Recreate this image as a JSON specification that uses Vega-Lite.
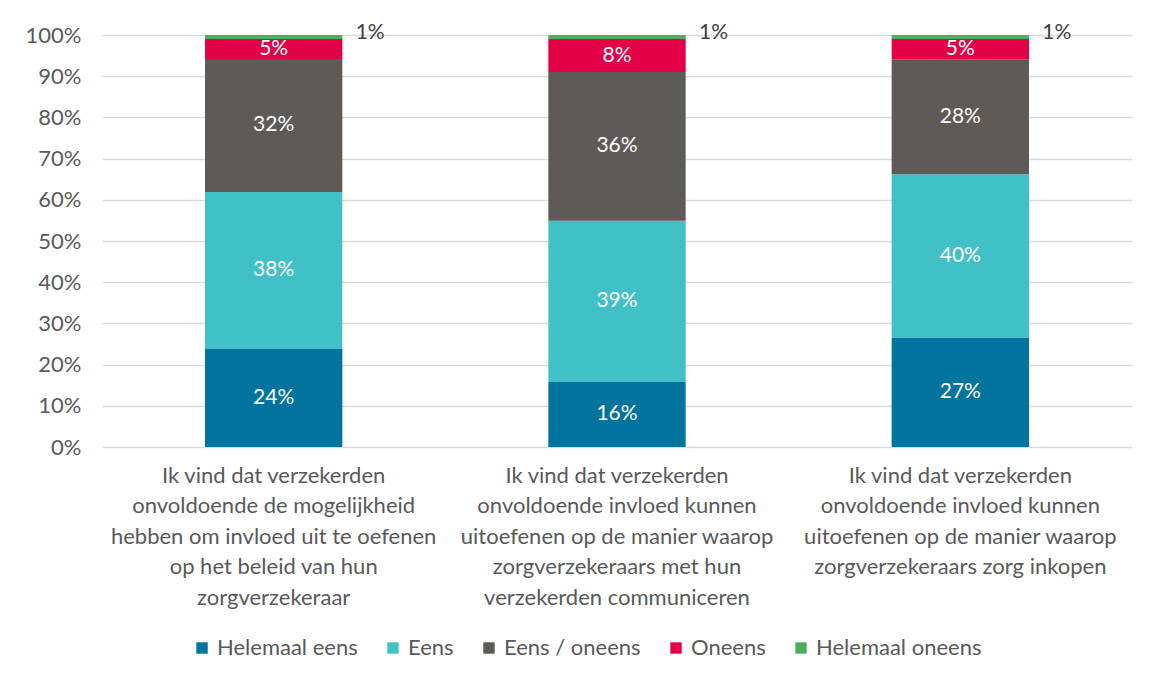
{
  "$schema": "https://vega.github.io/schema/vega-lite/v6.json",
  "width": 1030,
  "height": 412,
  "autosize": {"type": "none"},
  "padding": {"left": 102, "top": 35, "right": 21, "bottom": 235},
  "background": "white",
  "config": {
    "font": "Lato",
    "view": {"stroke": null},
    "axis": {"labelFont": "Lato", "labelFontSize": 22, "labelColor": "#595959"},
    "legend": {"labelFont": "Lato", "labelFontSize": 22, "labelColor": "#595959"}
  },
  "data": {
    "values": [
      {"cat": "Ik vind dat verzekerden|onvoldoende de mogelijkheid|hebben om invloed uit te oefenen|op het beleid van hun|zorgverzekeraar", "resp": "Helemaal eens", "order": 1, "value": 0.238},
      {"cat": "Ik vind dat verzekerden|onvoldoende de mogelijkheid|hebben om invloed uit te oefenen|op het beleid van hun|zorgverzekeraar", "resp": "Eens", "order": 2, "value": 0.381},
      {"cat": "Ik vind dat verzekerden|onvoldoende de mogelijkheid|hebben om invloed uit te oefenen|op het beleid van hun|zorgverzekeraar", "resp": "Eens / oneens", "order": 3, "value": 0.323},
      {"cat": "Ik vind dat verzekerden|onvoldoende de mogelijkheid|hebben om invloed uit te oefenen|op het beleid van hun|zorgverzekeraar", "resp": "Oneens", "order": 4, "value": 0.048},
      {"cat": "Ik vind dat verzekerden|onvoldoende de mogelijkheid|hebben om invloed uit te oefenen|op het beleid van hun|zorgverzekeraar", "resp": "Helemaal oneens", "order": 5, "value": 0.010},
      {"cat": "Ik vind dat verzekerden|onvoldoende invloed kunnen|uitoefenen op de manier waarop|zorgverzekeraars met hun|verzekerden communiceren", "resp": "Helemaal eens", "order": 1, "value": 0.158},
      {"cat": "Ik vind dat verzekerden|onvoldoende invloed kunnen|uitoefenen op de manier waarop|zorgverzekeraars met hun|verzekerden communiceren", "resp": "Eens", "order": 2, "value": 0.391},
      {"cat": "Ik vind dat verzekerden|onvoldoende invloed kunnen|uitoefenen op de manier waarop|zorgverzekeraars met hun|verzekerden communiceren", "resp": "Eens / oneens", "order": 3, "value": 0.361},
      {"cat": "Ik vind dat verzekerden|onvoldoende invloed kunnen|uitoefenen op de manier waarop|zorgverzekeraars met hun|verzekerden communiceren", "resp": "Oneens", "order": 4, "value": 0.080},
      {"cat": "Ik vind dat verzekerden|onvoldoende invloed kunnen|uitoefenen op de manier waarop|zorgverzekeraars met hun|verzekerden communiceren", "resp": "Helemaal oneens", "order": 5, "value": 0.010},
      {"cat": "Ik vind dat verzekerden|onvoldoende invloed kunnen|uitoefenen op de manier waarop|zorgverzekeraars zorg inkopen", "resp": "Helemaal eens", "order": 1, "value": 0.266},
      {"cat": "Ik vind dat verzekerden|onvoldoende invloed kunnen|uitoefenen op de manier waarop|zorgverzekeraars zorg inkopen", "resp": "Eens", "order": 2, "value": 0.396},
      {"cat": "Ik vind dat verzekerden|onvoldoende invloed kunnen|uitoefenen op de manier waarop|zorgverzekeraars zorg inkopen", "resp": "Eens / oneens", "order": 3, "value": 0.279},
      {"cat": "Ik vind dat verzekerden|onvoldoende invloed kunnen|uitoefenen op de manier waarop|zorgverzekeraars zorg inkopen", "resp": "Oneens", "order": 4, "value": 0.049},
      {"cat": "Ik vind dat verzekerden|onvoldoende invloed kunnen|uitoefenen op de manier waarop|zorgverzekeraars zorg inkopen", "resp": "Helemaal oneens", "order": 5, "value": 0.010}
    ]
  },
  "transform": [
    {"stack": "value", "groupby": ["cat"], "sort": [{"field": "order", "order": "ascending"}], "as": ["y0", "y1"]},
    {"calculate": "(datum.y0 + datum.y1) / 2", "as": "mid"}
  ],
  "encoding": {
    "x": {
      "field": "cat", "type": "nominal", "sort": null,
      "scale": {"paddingInner": 0.6, "paddingOuter": 0.3},
      "axis": {
        "title": null, "labelAngle": 0, "ticks": false, "domain": false,
        "labelExpr": "split(datum.label, '|')", "labelLineHeight": 30.5,
        "labelPadding": 18, "labelBaseline": "top", "labelLimit": 0
      }
    }
  },
  "layer": [
    {
      "mark": {"type": "bar"},
      "encoding": {
        "y": {
          "field": "y0", "type": "quantitative",
          "scale": {"domain": [0, 1], "nice": false},
          "axis": {
            "title": null, "format": ".0%", "values": [0, 0.1, 0.2, 0.3, 0.4, 0.5, 0.6, 0.7, 0.8, 0.9, 1],
            "ticks": false, "domain": false, "grid": true, "gridColor": "#d9d9d9", "gridWidth": 1.3,
            "labelPadding": 21
          }
        },
        "y2": {"field": "y1"},
        "color": {
          "field": "resp", "type": "nominal",
          "scale": {
            "domain": ["Helemaal eens", "Eens", "Eens / oneens", "Oneens", "Helemaal oneens"],
            "range": ["#00739E", "#41C1C7", "#5E5A57", "#E40046", "#4CAF5A"]
          },
          "legend": {
            "title": null, "orient": "none", "direction": "horizontal",
            "legendX": 89, "legendY": 602,
            "symbolType": "square", "symbolSize": 130, "symbolStrokeWidth": 0,
            "columnPadding": 24, "labelOffset": 4, "labelLimit": 0
          }
        },
        "order": {"field": "order"}
      }
    },
    {
      "transform": [{"filter": "datum.order < 5"}],
      "mark": {"type": "text", "color": "white", "fontSize": 21, "baseline": "middle", "font": "Lato"},
      "encoding": {
        "y": {"field": "mid", "type": "quantitative"},
        "text": {"field": "value", "type": "quantitative", "format": ".0%"}
      }
    },
    {
      "transform": [{"filter": "datum.order == 5"}],
      "mark": {"type": "text", "color": "#404040", "fontSize": 21, "baseline": "middle", "align": "left", "dx": 82, "dy": -2, "font": "Lato"},
      "encoding": {
        "y": {"field": "y1", "type": "quantitative"},
        "text": {"field": "value", "type": "quantitative", "format": ".0%"}
      }
    }
  ]
}
